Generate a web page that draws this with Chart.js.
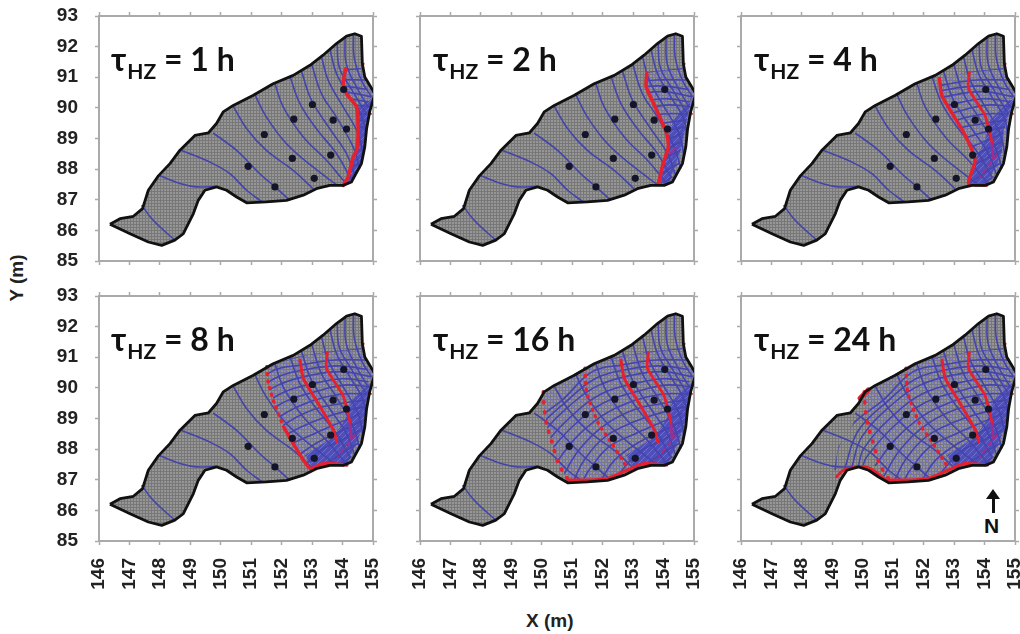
<!DOCTYPE html>
<html><head><meta charset="utf-8">
<style>
html,body{margin:0;padding:0;background:#fff;width:1020px;height:634px;overflow:hidden}
canvas{position:absolute;filter:blur(.45px)}
.t{position:absolute;font:700 32px Lato,sans-serif;color:#111;white-space:nowrap;line-height:36px;filter:blur(.3px)}
.t sub{font-size:21px;vertical-align:baseline;position:relative;top:8px;margin-left:1px}
.a{position:absolute;font:700 19px "Liberation Sans",sans-serif;color:#222;white-space:nowrap}
#ny{transform:rotate(-90deg);transform-origin:center}
#arrowBar{position:absolute;left:992px;top:497px;width:3px;height:16px;background:#111}
#arrowHead{position:absolute;left:986px;top:489px;width:0;height:0;border-left:7px solid transparent;border-right:7px solid transparent;border-bottom:10px solid #111}
</style>
<script src="https://cdn.jsdelivr.net/npm/chart.js@4"></script>
</head><body>
<div class="a" id="ny" style="left:-7px;top:267px">Y (m)</div>
<div class="a" style="left:526px;top:610px">X (m)</div>
<div id="arrowHead"></div><div id="arrowBar"></div>
<div class="a" style="left:984px;top:514px;font-size:21px;color:#111">N</div>
<script>
const panelLabels=["1 h","2 h","4 h","8 h","16 h","24 h"];
const xTicks=[146,147,148,149,150,151,152,153,154,155];
const yTicks=[85,86,87,88,89,90,91,92,93];

const boundary=[[146.36,86.20],[146.69,86.38],[147.13,86.46],[147.43,86.71],[147.62,87.31],[147.95,87.78],[148.33,88.18],[148.66,88.62],[149.15,89.10],[149.59,89.18],[149.86,89.49],[150.08,89.87],[150.41,90.08],[151.07,90.41],[151.72,90.79],[152.38,91.06],[152.93,91.39],[153.36,91.72],[153.80,92.10],[154.13,92.34],[154.40,92.42],[154.62,92.34],[154.65,91.44],[154.73,91.01],[155.06,90.46],[154.89,89.87],[154.79,89.32],[154.73,88.72],[154.62,88.18],[154.29,87.58],[154.02,87.47],[153.58,87.47],[153.14,87.36],[152.71,87.15],[152.16,86.98],[151.50,86.93],[150.85,86.90],[150.52,87.09],[150.19,87.31],[149.86,87.42],[149.48,87.31],[149.26,86.98],[149.10,86.55],[148.77,85.89],[148.49,85.68],[148.06,85.51],[147.62,85.62],[147.02,85.89],[146.36,86.20]];
const wells=[[150.90,88.09],[151.78,87.42],[151.43,89.13],[152.35,88.35],[153.07,87.70],[152.40,89.63],[153.61,88.46],[153.01,90.11],[153.69,89.60],[154.13,89.31],[154.04,90.60]];
const riverMarks=[[154.66,91.44],[154.72,91.44],[154.88,89.86],[154.95,89.78]];

const equipotentials=[
[[147.40,86.82],[147.78,86.33],[148.49,85.68]],
[[148.0,87.78],[148.66,87.53],[149.2,87.42],[149.86,87.44]],
[[148.71,88.61],[149.64,88.23],[150.30,87.85],[150.85,87.31],[151.36,86.93]],
[[149.75,89.18],[150.52,88.61],[151.28,87.85],[151.78,87.42],[152.27,86.98]],
[[150.41,90.05],[150.85,89.32],[151.50,88.61],[152.38,87.96],[153.03,87.36]],
[[151.12,90.43],[151.50,89.70],[152.16,88.83],[153.03,88.07],[153.80,87.49]],
[[151.78,90.79],[152.05,90.03],[152.71,89.05],[153.47,88.29],[154.07,87.58]],
[[152.27,91.03],[152.60,90.14],[153.14,89.32],[153.80,88.51],[154.24,87.74]],
[[152.65,91.2],[152.98,90.25],[153.58,89.32],[154.13,88.51],[154.40,87.8]],
[[152.98,91.44],[153.31,90.46],[153.80,89.70],[154.35,88.72],[154.57,88.02]],
[[153.31,91.66],[153.53,90.9],[154.02,90.03],[154.51,89.16],[154.68,88.4]],
[[153.58,91.93],[153.80,91.12],[154.24,90.36],[154.68,89.59],[154.76,88.94]],
[[153.82,92.1],[153.9,91.3],[154.33,90.55],[154.78,89.8]],
[[154.08,92.32],[154.12,91.44],[154.46,90.68],[154.84,90.03]],
[[154.36,92.42],[154.38,91.66],[154.62,90.9],[154.95,90.36]]];

const pathlines=[
[[154.62,91.29],[153.52,91.18],[152.54,91.02],[151.39,90.64],[150.6,90.15]],
[[154.78,90.91],[153.74,90.91],[152.65,90.75],[151.66,90.53],[150.67,89.6],[149.69,88.84],[149.2,88.08],[149.09,87.31]],
[[154.82,90.6],[153.85,90.72],[152.8,90.6],[151.75,90.3],[150.8,89.55],[149.85,88.6],[149.4,87.35]],
[[154.95,90.36],[153.96,90.53],[152.98,90.42],[151.88,90.09],[151.0,89.49],[149.97,88.4],[149.64,87.42]],
[[154.85,90.2],[154.0,90.3],[153.0,90.13],[151.95,89.8],[151.0,89.1],[150.05,88.05],[149.85,87.45]],
[[154.89,90.04],[154.07,90.09],[153.09,89.87],[151.99,89.49],[151.0,88.73],[150.13,87.75],[150.0,87.45]],
[[154.78,89.8],[154.0,89.8],[153.0,89.57],[152.0,89.1],[151.1,88.35],[150.4,87.45]],
[[154.73,89.6],[153.96,89.49],[152.98,89.27],[151.99,88.73],[151.22,87.97],[150.68,87.1]],
[[154.68,89.38],[153.96,89.2],[153.05,88.9],[152.1,88.42],[151.4,87.65],[151.05,86.98]],
[[154.62,89.17],[153.96,88.89],[153.09,88.51],[152.21,88.08],[151.55,87.31],[151.39,87.04]],
[[154.6,88.9],[153.96,88.6],[153.15,88.2],[152.4,87.65],[151.95,87.0]],
[[154.56,88.62],[153.96,88.29],[153.2,87.91],[152.54,87.2]],
[[154.51,88.19],[153.96,87.86],[153.2,87.31]],
[[154.29,87.75],[153.63,87.31]]];

const front1=[[154.10,91.28],[154.02,90.79],[154.13,90.46],[154.46,90.03],[154.51,89.27],[154.46,88.61],[154.35,88.40],[154.18,87.74],[154.02,87.47]];
const front2=[[153.45,91.13],[153.43,90.69],[153.72,90.04],[154.10,89.17],[154.16,88.73],[153.99,88.19],[153.83,87.53]];
const front2Upper=[[153.50,91.16],[153.47,90.64],[154.02,89.74],[154.24,88.90]];
const front2Lower=[[154.24,88.90],[154.28,88.35]];
const streak=[[154.40,88.46],[153.85,87.75]];
const front4=[[152.52,90.96],[152.59,90.42],[152.87,89.93],[153.36,89.11],[153.69,88.29],[153.47,87.53],[154.07,87.48]];
const front4Upper=[[152.60,90.91],[152.71,90.31],[153.20,89.49],[153.70,88.62],[153.81,88.24]];
const front8Upper=[[151.51,90.69],[151.56,90.15],[151.78,89.44],[152.06,88.73]];
const front8Lower=[[152.06,88.73],[152.44,88.08],[152.93,87.37],[153.37,87.53],[154.14,87.48]];
const front8Later=[[151.42,90.64],[151.48,89.82],[151.86,88.84],[152.30,88.19],[152.79,87.42]];
const front16=[[150.05,89.87],[150.07,89.44],[150.16,88.78],[150.33,88.24],[150.54,87.53],[150.87,86.99]];
const southFront16=[[150.87,86.99],[151.48,86.99],[152.13,87.04],[152.79,87.31],[153.34,87.53],[154.10,87.48]];
const southFront24=[[149.14,87.10],[149.36,87.31],[150.02,87.44],[150.35,87.31],[150.84,86.93]];
const northBlob=[[149.91,89.66],[150.18,89.93]];
const reachWest24=[[150.0,89.9],[149.69,88.84],[149.2,88.08],[149.05,87.31],[149.14,87.10]];

const eastEdge=[[154.29,87.58],[154.62,88.18],[154.73,88.72],[154.79,89.32],[154.89,89.87],[155.06,90.46],[154.73,91.01],[154.65,91.3]];
const topEdge=[[153.52,91.18],[152.54,91.02],[151.39,90.64],[150.41,90.08]];
const dense1=[[154.95,90.3],[154.5,90.0],[154.51,89.27],[154.46,88.61],[154.18,87.74],[154.02,87.47],[154.29,87.58],[154.62,88.18],[154.73,88.72],[154.79,89.32],[154.89,89.87]];
const dense2=[[154.81,90.15],[154.32,89.6],[154.16,89.06],[154.05,88.19],[153.88,87.48],[154.16,87.48],[154.59,88.73],[154.92,90.36]];
const dense4=[[154.84,90.26],[154.18,89.6],[154.02,88.95],[153.69,88.29],[153.47,87.53],[154.07,87.48],[154.56,88.51],[154.62,89.27],[154.95,90.26]];
const dense8=[[154.9,90.15],[154.3,89.6],[154.08,88.95],[153.69,88.4],[152.76,87.8],[153.04,87.37],[153.47,87.53],[154.13,87.48],[154.68,88.73],[154.79,89.6]];

const XY=a=>a.map(p=>({x:p[0],y:p[1]}));
const region=f=>{const r=f.concat(eastEdge);return r.concat(topEdge.filter(p=>p[0]>f[0][0]+.05))};
const closed=a=>a.concat([a[0]]);

const red='#e6202e',purple='#a02c8c';
const S=(data,w,dash,color)=>({data,w,dash,color});
const early=[S(front2Upper,2.8),S(front2Lower,2.8,null,purple),S(streak,2,[4,5],purple)];
const panels=[
 {hatch:region(front1),reach:region(front1),dense:dense1,fronts:[S(front1,3.6)]},
 {hatch:region(front2),reach:region(front2),dense:dense2,fronts:[S(front2,3.6),S([[154.4,88.7],[154.2,88.5]],2,null,purple)]},
 {hatch:region(front4),reach:region(front4),dense:dense4,fronts:early.concat([S(front4,3.4)])},
 {hatch:region(front8Upper.concat(front8Lower)),reach:region(front8Upper.concat(front8Lower)),dense:dense8,fronts:early.concat([S(front4Upper,3),S(front8Upper,3.4,[1,6]),S(front8Lower,3.4)])},
 {hatch:region(front16.concat(southFront16)),reach:region(front16.concat(southFront16)),dense:dense8,fronts:early.concat([S(front4Upper,3),S(front8Later,3.4,[1,6]),S(front16,3.6,[1,9]),S(southFront16,3)])},
 {hatch:region(front16.concat(southFront16)),reach:region(reachWest24.concat(southFront24,southFront16)),dense:dense8,fronts:early.concat([S(front4Upper,3),S(front8Later,3.4,[1,6]),S(front16,3.6,[1,9]),S(southFront16,3),S(southFront24,2.8),S(northBlob,5)])}
];

function tile(w,h,draw){const c=document.createElement('canvas');c.width=w;c.height=h;const g=c.getContext('2d');draw(g);return g.createPattern(c,'repeat')}
const meshFill=tile(3,3,g=>{g.fillStyle='#969696';g.fillRect(0,0,3,3);g.fillStyle='#787878';g.fillRect(0,0,3,1);g.fillRect(0,0,1,3)});
const hatchFill=tile(7,7,g=>{g.strokeStyle='rgba(112,112,224,.8)';g.lineWidth=1.3;g.beginPath();g.moveTo(-1,-1);g.lineTo(8,8);g.moveTo(-1,6);g.lineTo(1,8);g.moveTo(6,-1);g.lineTo(8,1);g.stroke()});
const denseFill=tile(6,6,g=>{g.fillStyle='#4f4fba';g.fillRect(0,0,6,6);g.strokeStyle='rgba(132,132,222,.6)';g.lineWidth=1;g.beginPath();g.moveTo(-1,7);g.lineTo(7,-1);g.stroke()});

const clipPlugin={id:'reachClip',
 beforeDatasetDraw(ch,a){const r=ch.data.datasets[a.index].reachRegion;if(!r)return;const c=ch.ctx,X=ch.scales.x,Y=ch.scales.y;c.save();c.beginPath();r.forEach((p,i)=>{const u=X.getPixelForValue(p[0]),v=Y.getPixelForValue(p[1]);i?c.lineTo(u,v):c.moveTo(u,v)});c.closePath();c.clip()},
 afterDatasetDraw(ch,a){if(ch.data.datasets[a.index].reachRegion)ch.ctx.restore()}};

const x0s=[99,420,741],y0s=[16,296],PW=274,PH=245,L=50,T=8,R=8,B=60;
const fixed=(k,v)=>s=>{s[k]=v;s.paddingLeft=s.paddingRight=s.paddingTop=s.paddingBottom=0};
panels.forEach((p,i)=>{
 const col=i%3,row=i<3?0:1;
 const cv=document.createElement('canvas');cv.width=L+PW+R;cv.height=T+PH+B;
 cv.style.left=(x0s[col]-L)+'px';cv.style.top=(y0s[row]-T)+'px';document.body.appendChild(cv);
 const line=(data,o)=>Object.assign({type:'line',data:XY(data),pointRadius:0,borderWidth:1.6,fill:false,tension:0,borderColor:'#4444ac',spanGaps:true,xAxisID:'x',yAxisID:'y'},o);
 const ds=[];
 ds.push(line(boundary,{backgroundColor:meshFill,borderWidth:0,fill:'shape',order:60}));
 ds.push(line(closed(p.hatch),{backgroundColor:hatchFill,borderWidth:0,fill:'shape',order:55}));
 ds.push(line(closed(p.dense),{backgroundColor:denseFill,borderWidth:0,fill:'shape',order:50}));
 equipotentials.forEach(e=>ds.push(line(e,{tension:.4,order:45})));
 pathlines.forEach(e=>ds.push(line(e,{tension:.4,order:40,reachRegion:closed(p.reach),borderWidth:1.6})));
 p.fronts.forEach(f=>ds.push(line(f.data,{borderColor:f.color||red,borderWidth:f.w,borderDash:f.dash||[],borderCapStyle:'round',borderJoinStyle:'round',tension:.2,order:30})));
 ds.push(line(riverMarks.slice(0,2),{borderColor:red,borderWidth:2,order:29}));
 ds.push(line(riverMarks.slice(2),{borderColor:red,borderWidth:2,order:29}));
 ds.push(line(wells,{showLine:false,pointRadius:3.6,pointBackgroundColor:'#15152a',pointBorderWidth:0,order:20}));
 ds.push(line(boundary,{borderColor:'#111',borderWidth:2.8,borderJoinStyle:'round',order:10}));
 const tickStyle={font:{family:'"Liberation Sans",sans-serif',weight:'700',size:19},color:'#222'};
 const grid={drawOnChartArea:false,drawTicks:true,tickLength:4,tickColor:'#aaa',tickWidth:1.5};
 const border={color:'#aaa',width:2};
 const xs={type:'linear',min:xTicks[0],max:xTicks[xTicks.length-1]};
 const ys={type:'linear',min:yTicks[0],max:yTicks[yTicks.length-1]};
 new Chart(cv,{type:'line',data:{datasets:ds},plugins:[clipPlugin],options:{
  responsive:false,animation:false,events:[],layout:{padding:0,autoPadding:false},
  plugins:{legend:{display:false},tooltip:{enabled:false},title:{display:false}},
  scales:{
   x:{...xs,position:'bottom',grid,border,afterFit:fixed('height',B),ticks:{...tickStyle,display:row===1,stepSize:1,autoSkip:false,minRotation:90,maxRotation:90,padding:13}},
   xTop:{...xs,position:'top',grid,border,afterFit:fixed('height',T),ticks:{display:false,stepSize:1}},
   y:{...ys,position:'left',grid,border,afterFit:fixed('width',L),ticks:{...tickStyle,display:col===0,stepSize:1,padding:17}},
   yRight:{...ys,position:'right',grid,border,afterFit:fixed('width',R),ticks:{display:false,stepSize:1}}
  }}});
 const t=document.createElement('div');t.className='t';
 t.style.left=(x0s[col]+[12,13,13][col])+'px';t.style.top=(y0s[row]+25)+'px';
 t.innerHTML='τ<sub>HZ</sub> = '+panelLabels[i];document.body.appendChild(t);
});
</script></body></html>
